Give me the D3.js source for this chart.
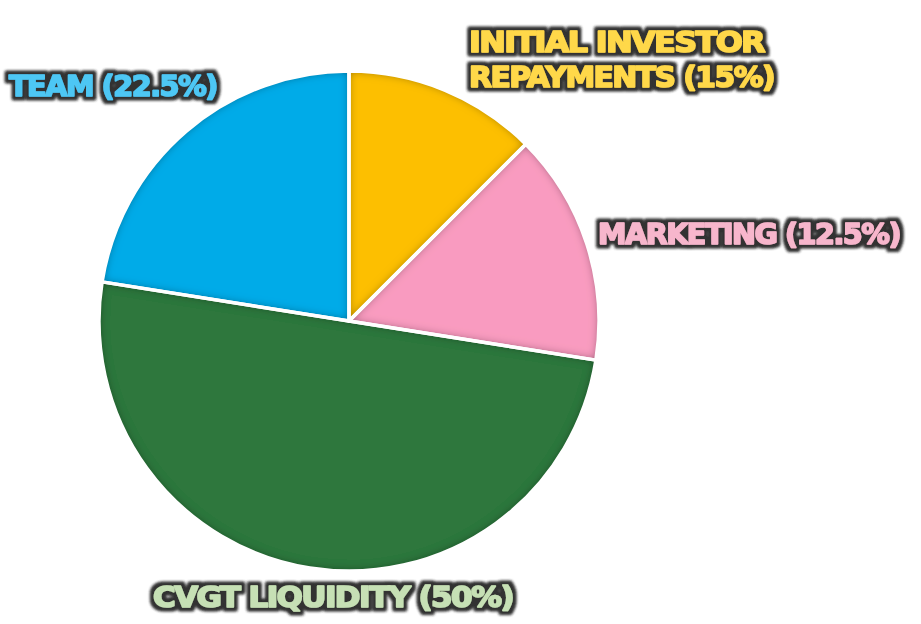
<!DOCTYPE html>
<html><head><meta charset="utf-8">
<script src="https://cdn.jsdelivr.net/npm/d3@7"></script>
<style>body{margin:0;background:#fff;}svg{display:block;}</style>
</head><body>
<svg id="chart" width="921" height="624"></svg>
<script>
const sliceNames = ["Initial investor repayments", "Marketing", "CVGT Liquidity", "Team"];
const sliceValues = [12.5, 15, 50, 22.5];
const sliceColors = ["#FDBF00", "#F99BC0", "#2D773D", "#00ABE8"];
const labelLines = [["INITIAL INVESTOR", "REPAYMENTS (15%)"], ["MARKETING (12.5%)"], ["CVGT LIQUIDITY (50%)"], ["TEAM (22.5%)"]];
const labelColors = ["#FFD84A", "#F7B6CC", "#C6E0B5", "#4EC7F4"];

const svg = d3.select("#chart");
const defs = svg.append("defs");

// inner shadow filter
const f = defs.append("filter").attr("id","inner").attr("x","-10%").attr("y","-10%").attr("width","120%").attr("height","120%");
f.append("feComponentTransfer").attr("in","SourceAlpha").attr("result","inv")
  .append("feFuncA").attr("type","table").attr("tableValues","1 0");
f.append("feGaussianBlur").attr("in","inv").attr("stdDeviation",5).attr("result","blur");
f.append("feFlood").attr("flood-color","#000").attr("flood-opacity",0.8).attr("result","col");
f.append("feComposite").attr("in","col").attr("in2","blur").attr("operator","in").attr("result","sh");
f.append("feComposite").attr("in","sh").attr("in2","SourceAlpha").attr("operator","in").attr("result","ish");
const m = f.append("feMerge");
m.append("feMergeNode").attr("in","SourceGraphic");
m.append("feMergeNode").attr("in","ish");

// text outline filter
const t = defs.append("filter").attr("id","outline").attr("filterUnits","userSpaceOnUse")
  .attr("x",0).attr("y",0).attr("width",921).attr("height",624);
t.append("feMorphology").attr("in","SourceAlpha").attr("operator","dilate").attr("radius",2.6).attr("result","dil");
t.append("feGaussianBlur").attr("in","dil").attr("stdDeviation",1.4).attr("result","b");
t.append("feFlood").attr("flood-color","#333").attr("result","c");
t.append("feComposite").attr("in","c").attr("in2","b").attr("operator","in").attr("result","o");
const tm = t.append("feMerge");
tm.append("feMergeNode").attr("in","o");
tm.append("feMergeNode").attr("in","o");
tm.append("feMergeNode").attr("in","SourceGraphic");

const cx = 349, cy = 321, r = 250;
const pie = d3.pie().sort(null).value(d => d)(sliceValues);
const arc = d3.arc().innerRadius(0).outerRadius(r);

const g = svg.append("g").attr("transform", `translate(${cx},${cy})`);
g.selectAll("path.slice").data(pie).join("path")
  .attr("class","slice")
  .attr("d", arc)
  .attr("fill", (d,i) => sliceColors[i])
  .attr("filter","url(#inner)");
g.selectAll("path.border").data(pie).join("path")
  .attr("class","border")
  .attr("d", arc)
  .attr("fill","none")
  .attr("stroke","#fff").attr("stroke-width",3.5).attr("stroke-linejoin","round");

// label placement
const labelPos = [
  {x:469, y:[52, 87], w:[295, 305]},
  {x:598, y:[244], w:[302]},
  {x:153, y:[607], w:[360]},
  {x:9, y:[96], w:[208]}
];
const lg = svg.append("g").attr("filter","url(#outline)");
labelLines.forEach((lines, i) => {
  lines.forEach((line, j) => {
    lg.append("text")
      .attr("x", labelPos[i].x).attr("y", labelPos[i].y[j])
      .attr("textLength", labelPos[i].w[j]).attr("lengthAdjust","spacingAndGlyphs")
      .attr("font-family","'DejaVu Sans', sans-serif").attr("font-weight","bold")
      .attr("font-size", 29)
      .attr("letter-spacing", -1.5)
      .attr("fill", labelColors[i])
      .attr("stroke", labelColors[i]).attr("stroke-width", 1.6).attr("stroke-linejoin","round")
      .text(line);
  });
});
</script>
</body></html>
